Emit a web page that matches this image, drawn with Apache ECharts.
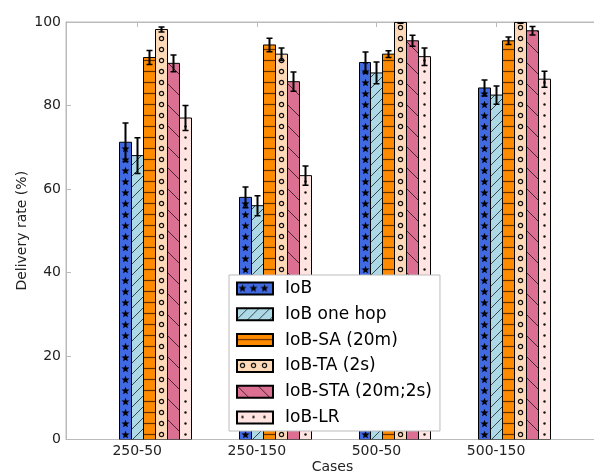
<!DOCTYPE html>
<html>
<head>
<meta charset="utf-8">
<script src="https://cdn.jsdelivr.net/npm/echarts@6/dist/echarts.min.js"></script>
<style>html,body{margin:0;padding:0;background:#fff}#c{width:594px;height:475px}</style>
</head>
<body>
<div id="c"></div>
<script>
// ---- data ----
const categories = ['250-50', '250-150', '500-50', '500-150'];
const seriesNames = ['IoB', 'IoB one hop', 'IoB-SA (20m)', 'IoB-TA (2s)', 'IoB-STA (20m;2s)', 'IoB-LR'];
const iob        = [71.2, 58.0, 90.3, 84.2];
const iobErr     = [4.6, 2.5, 2.5, 1.9];
const iobOneHop  = [68.0, 56.0, 87.8, 82.5];
const iobOneHopErr = [4.3, 2.4, 2.6, 2.2];
const iobSA      = [91.5, 94.5, 92.3, 95.5];
const iobSAErr   = [1.7, 1.6, 0.8, 0.9];
const iobTA      = [98.2, 92.3, 99.9, 99.9];
const iobTAErr   = [0.6, 1.5, 0.2, 0.2];
const iobSTA     = [90.1, 85.7, 95.5, 97.9];
const iobSTAErr  = [2.0, 2.3, 1.3, 1.0];
const iobLR      = [77.0, 63.2, 91.7, 86.3];
const iobLRErr   = [3.0, 2.3, 2.1, 1.9];
const yTicks = [0, 20, 40, 60, 80, 100];

const values = [iob, iobOneHop, iobSA, iobTA, iobSTA, iobLR];
const errors = [iobErr, iobOneHopErr, iobSAErr, iobTAErr, iobSTAErr, iobLRErr];

// ---- styling ----
const FONT = 'DejaVu Sans';
const barW = 0.1;            // bar width in x units
const tickOffset = 0.15;     // tick at centre of 2nd bar
const colors = ['#4169E1', '#ADD8E6', '#FF8C00', '#FFDAB9', '#DB7093', '#FFE4E1'];

function tile(w, h, bg, draw) {
  const c = document.createElement('canvas');
  c.width = w; c.height = h;
  const ctx = c.getContext('2d');
  ctx.fillStyle = bg; ctx.fillRect(0, 0, w, h);
  draw(ctx, w, h);
  return c;
}
function star(ctx, cx, cy, ro, ri) {
  ctx.beginPath();
  for (let i = 0; i < 10; i++) {
    const r = i % 2 ? ri : ro;
    const a = -Math.PI / 2 + i * Math.PI / 5;
    const x = cx + r * Math.cos(a), y = cy + r * Math.sin(a);
    i ? ctx.lineTo(x, y) : ctx.moveTo(x, y);
  }
  ctx.closePath(); ctx.fill();
}
const tiles = [
  tile(11, 11, colors[0], (ctx) => { ctx.fillStyle = '#000'; star(ctx, 5.5, 5.9, 4.2, 1.8); }),
  tile(11, 11, colors[1], (ctx, w, h) => {
    ctx.strokeStyle = 'rgba(0,0,0,0.75)'; ctx.lineWidth = 0.9;
    ctx.beginPath();
    ctx.moveTo(-1, h + 1); ctx.lineTo(w + 1, -1);
    ctx.moveTo(-1, 1); ctx.lineTo(1, -1);
    ctx.moveTo(w - 1, h + 1); ctx.lineTo(w + 1, h - 1);
    ctx.stroke();
  }),
  tile(11, 11, colors[2], (ctx, w) => {
    ctx.strokeStyle = 'rgba(70,30,0,0.85)'; ctx.lineWidth = 1.2;
    ctx.beginPath(); ctx.moveTo(0, 5.5); ctx.lineTo(w, 5.5); ctx.stroke();
  }),
  tile(11, 11, colors[3], (ctx) => {
    ctx.strokeStyle = '#111'; ctx.lineWidth = 1.2;
    ctx.beginPath(); ctx.arc(5.5, 5.5, 2.1, 0, Math.PI * 2); ctx.stroke();
  }),
  tile(21, 21, colors[4], (ctx, w, h) => {
    ctx.strokeStyle = 'rgba(0,0,0,0.75)'; ctx.lineWidth = 0.9;
    ctx.beginPath();
    ctx.moveTo(-1, -1); ctx.lineTo(w + 1, h + 1);
    ctx.moveTo(w - 1, -1); ctx.lineTo(w + 1, 1);
    ctx.moveTo(-1, h - 1); ctx.lineTo(1, h + 1);
    ctx.stroke();
  }),
  tile(11, 11, colors[5], (ctx) => {
    ctx.fillStyle = '#111';
    ctx.beginPath(); ctx.arc(5.5, 5.5, 1.2, 0, Math.PI * 2); ctx.fill();
  })
];
function pattern(k, x, y) {
  return { image: tiles[k], repeat: 'repeat', x: x || 0, y: y || 0 };
}

const chart = echarts.init(document.getElementById('c'), null, { renderer: 'canvas' });

const series = seriesNames.map((name, k) => ({
  name: name,
  type: 'custom',
  clip: true,
  itemStyle: { color: pattern(k, 0, 0), borderColor: '#000', borderWidth: 1 },
  data: categories.map((c, g) => [g, values[k][g], errors[k][g]]),
  encode: { x: 0, y: 1 },
  renderItem: function (params, api) {
    const g = api.value(0), v = api.value(1), e = api.value(2);
    const x0 = g + k * barW, x1 = g + (k + 1) * barW, xc = g + (k + 0.5) * barW;
    const pTop = api.coord([x0, v]);
    const pBot = api.coord([x1, 0]);
    const left = Math.round(pTop[0]), right = Math.round(pBot[0]);
    const top = pTop[1], bottom = pBot[1];
    const eTop = api.coord([xc, v + e]);
    const eBot = api.coord([xc, v - e]);
    const cx = Math.round(eTop[0]) + 0.5;
    const cap = 3;
    return {
      type: 'group',
      children: [
        {
          type: 'rect',
          shape: { x: left + 0.5, y: top, width: right - left, height: bottom - top },
          style: { fill: pattern(k, left + 1, 0), stroke: '#000', lineWidth: 1 }
        },
        {
          type: 'line',
          shape: { x1: cx, y1: eTop[1], x2: cx, y2: eBot[1] },
          style: { stroke: '#000', lineWidth: 2 }
        },
        {
          type: 'line',
          shape: { x1: cx - cap, y1: eTop[1], x2: cx + cap, y2: eTop[1] },
          style: { stroke: '#000', lineWidth: 1.5 }
        },
        {
          type: 'line',
          shape: { x1: cx - cap, y1: eBot[1], x2: cx + cap, y2: eBot[1] },
          style: { stroke: '#000', lineWidth: 1.5 }
        }
      ]
    };
  }
}));

const tickVals = categories.map((c, g) => g + tickOffset);

chart.setOption({
  animation: false,
  backgroundColor: '#fff',
  grid: {
    left: 66, top: 22, right: -5, bottom: 35.5,
    containLabel: false, outerBoundsMode: 'none',
    show: true, borderColor: '#bbb', borderWidth: 1, backgroundColor: 'transparent'
  },
  legend: {
    orient: 'vertical',
    left: 229, top: 275,
    itemWidth: 36, itemHeight: 12, itemGap: 8.8,
    padding: [5, 8, 5, 7],
    backgroundColor: '#fff', borderColor: '#bbb', borderWidth: 1, borderRadius: 0,
    icon: 'rect',
    textStyle: { fontFamily: FONT, fontSize: 17, color: '#000', padding: [0, 0, 0, 7] },
    data: seriesNames
  },
  xAxis: [
    {
      type: 'value', min: -0.445, max: 4.01,
      axisLine: { show: true, onZero: false, lineStyle: { color: '#bbb', width: 1 } },
      axisTick: { show: true, inside: true, length: 5, customValues: tickVals, lineStyle: { color: '#bbb' } },
      axisLabel: {
        show: true, customValues: tickVals, margin: 5,
        fontFamily: FONT, fontSize: 14, color: '#222',
        formatter: function (v) { return categories[Math.round(v - tickOffset)] || ''; }
      },
      splitLine: { show: false },
      name: 'Cases', nameLocation: 'middle', nameGap: 21, nameMoveOverlap: false,
      nameTextStyle: { fontFamily: FONT, fontSize: 14, color: '#222' }
    },
    {
      type: 'value', min: -0.445, max: 4.01, position: 'top',
      axisLine: { show: true, onZero: false, lineStyle: { color: '#bbb', width: 1 } },
      axisTick: { show: true, inside: true, length: 5, customValues: tickVals, lineStyle: { color: '#bbb' } },
      axisLabel: { show: false },
      splitLine: { show: false }
    }
  ],
  yAxis: {
    type: 'value', min: yTicks[0], max: yTicks[yTicks.length - 1], interval: 20,
    axisLine: { show: true, onZero: false, lineStyle: { color: '#bbb', width: 1 } },
    axisTick: { show: true, inside: true, length: 5, lineStyle: { color: '#bbb' } },
    axisLabel: { fontFamily: FONT, fontSize: 14, color: '#222', margin: 5 },
    splitLine: { show: false },
    name: 'Delivery rate (%)', nameLocation: 'middle', nameGap: 37, nameMoveOverlap: false,
    nameTextStyle: { fontFamily: FONT, fontSize: 14, color: '#222' }
  },
  series: series
});
</script>
</body>
</html>
